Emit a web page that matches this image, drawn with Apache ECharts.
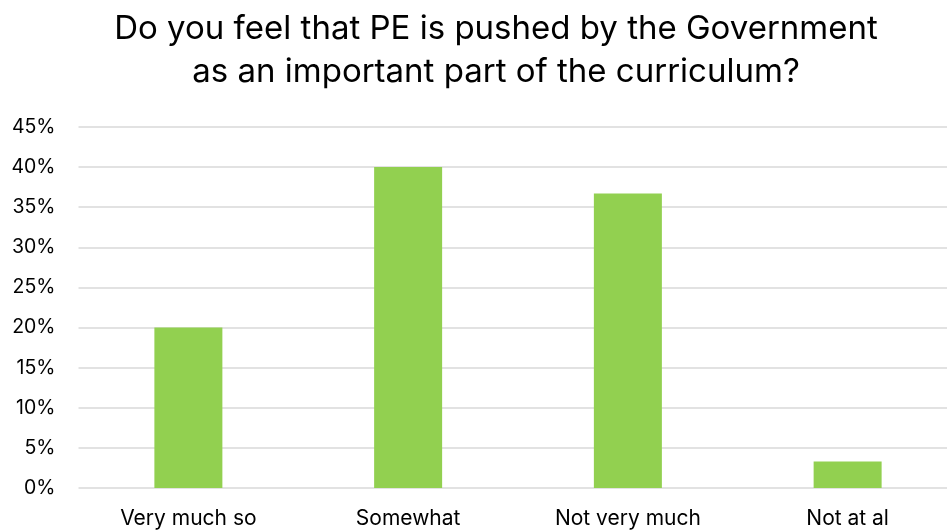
<!DOCTYPE html>
<html><head><meta charset="utf-8">
<script src="https://cdn.jsdelivr.net/npm/echarts@6/dist/echarts.min.js"></script>
<style>html,body{margin:0;padding:0;background:#fff}#c{width:947px;height:531px}</style>
</head><body><div id="c"></div>
<script>
const categories = ["Very much so", "Somewhat", "Not very much", "Not at al"];
const values = [20, 40, 36.7, 3.3];
const titleLines = ["Do you feel that PE is pushed by the Government", "as an important part of the curriculum?"];

const FONT = 'Inter';
const chart = echarts.init(document.getElementById('c'));
chart.setOption({
  animation: false,
  title: {
    text: titleLines.join('\n'),
    left: 491, textAlign: 'center', top: 3,
    textStyle: { fontFamily: FONT, fontSize: 33, fontWeight: 'normal', color: '#000', lineHeight: 43 }
  },
  grid: { left: 78.5, width: 879, top: 127, height: 361, containLabel: false, outerBoundsMode: 'none' },
  xAxis: {
    type: 'category', data: categories,
    axisLine: { show: false }, axisTick: { show: false },
    axisLabel: { fontFamily: FONT, fontSize: 21, color: '#000', margin: 20 }
  },
  yAxis: {
    type: 'value', min: 0, max: 45, interval: 5,
    axisLabel: { formatter: '{value}%', fontFamily: FONT, fontSize: 19.5, color: '#000', margin: 23 },
    splitLine: { lineStyle: { color: '#d9d9d9', width: 1.5 } },
    axisLine: { show: false }, axisTick: { show: false }
  },
  series: [{
    type: 'bar', data: values, barWidth: 68,
    itemStyle: { color: '#92d050' }
  }]
});
</script></body></html>
